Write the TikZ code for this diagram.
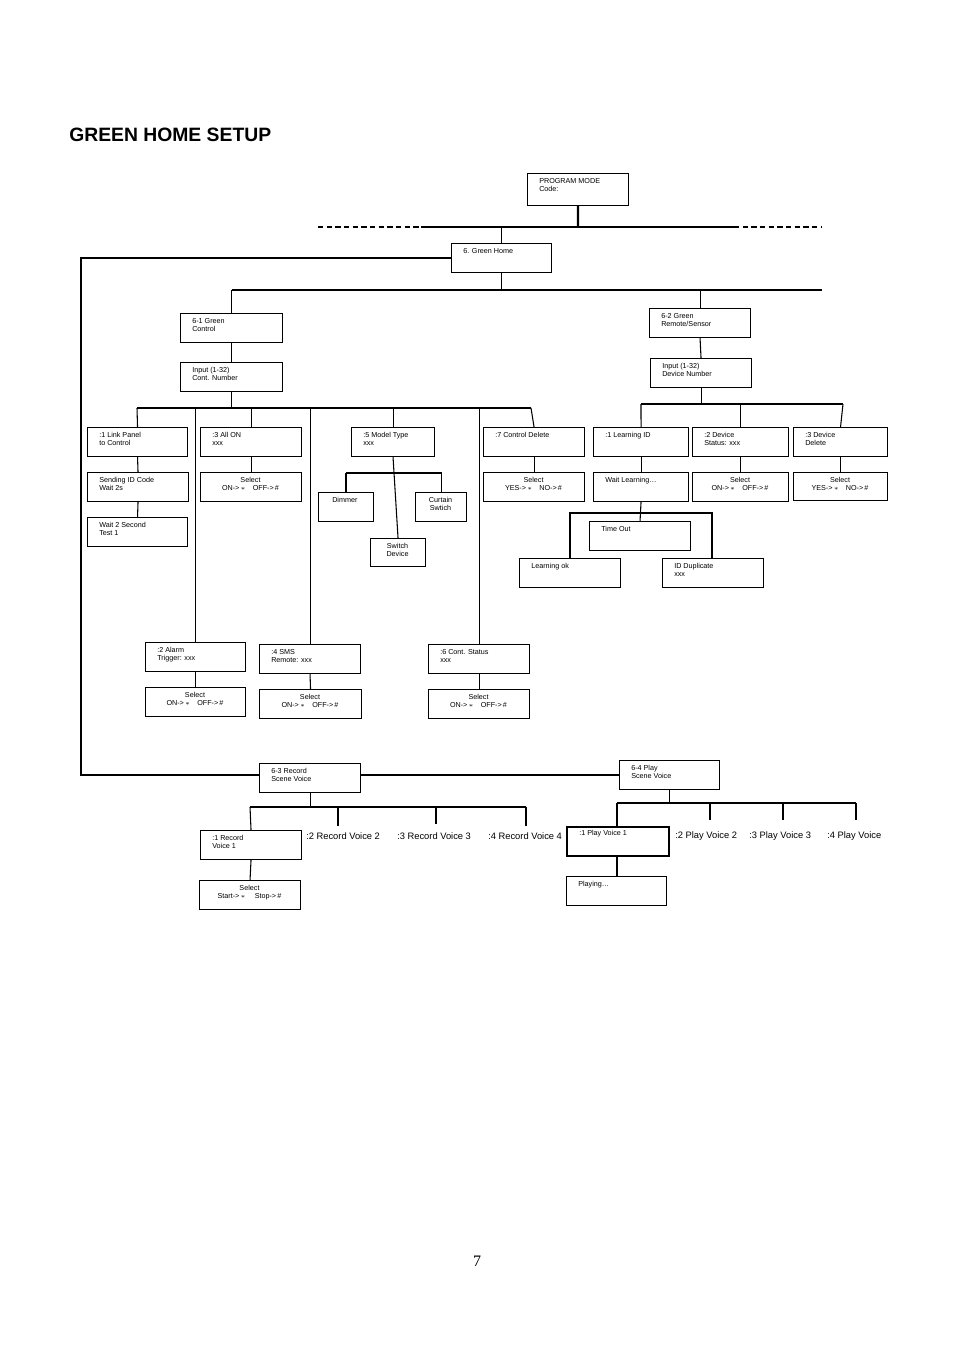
\documentclass[tikz,border=0pt]{standalone}
\usepackage{fontspec}
\setmainfont{Liberation Sans}
\newfontfamily\pgnum{Liberation Serif}
\tikzset{
 box/.style={draw, line width=0.8pt, inner sep=0pt},
 txt/.style={font=\fontsize{5.4}{6}\selectfont, inner sep=0pt, align=left},
 ctxt/.style={font=\fontsize{5.4}{6}\selectfont, inner sep=0pt, align=center},
 big/.style={font=\fontsize{7}{8}\selectfont, inner sep=0pt, anchor=north west},
 ln/.style={line width=0.8pt}
}
\newcommand\bx[6]{\node[box, minimum width={(#4-#2)*0.75pt}, minimum height={(#5-#3)*0.75pt}, anchor=north west] (#1) at (#2,#3) {};
 \node[txt, anchor=north west] (#1t) at ({#2+12},{#3+5}) {#6};}
\newcommand\sbx[6]{\node[box, minimum width={(#4-#2)*0.75pt}, minimum height={(#5-#3)*0.75pt}, anchor=north west] (#1) at (#2,#3) {};
 \node[ctxt, anchor=north] (#1t) at ({(#2+#4)/2},{#3+5}) {#6};}
\newcommand\on{ON->\,$\ast$\quad OFF->\,\#}
\begin{document}
\begin{tikzpicture}[x=0.75pt,y=-0.75pt]
\useasboundingbox (0,0) rectangle (954,1351);
\node[font=\bfseries\fontsize{14.5}{16}\selectfont, anchor=west, inner sep=0pt] (title) at (69,135) {GREEN HOME SETUP};
\node[font=\pgnum\fontsize{12}{14}\selectfont, inner sep=0pt] (pg) at (477,1261) {7};
% top
\bx{pm}{527}{173}{628}{205}{PROGRAM MODE\\Code:}
\coordinate (bar) at (578,227);
\draw[line width=1.6pt] (pm.south) -- (bar);
\coordinate (dl) at (318,227); \coordinate (dr) at (822,227);
\coordinate (sl) at (421,227); \coordinate (sr) at (734,227);
\draw[ln, dashed, dash pattern=on 4pt off 2.5pt] (dl) -- (dr);
\draw[ln] (sl) -- (sr);
\bx{gh}{451}{243}{551}{272}{6. Green Home}
\draw[ln] (gh.north) -- (gh.north |- bar);
% left loop
\coordinate (L1) at (81,258); \coordinate (L2) at (81,775);
\bx{r63}{259}{763}{360}{792}{6-3 Record\\Scene Voice}
\bx{p64}{619}{760}{719}{789}{6-4 Play\\Scene Voice}
\draw[ln] (gh.west |- L1) -- (L1) -- (L2) -- (r63.west |- L2);
\draw[ln] (r63.east |- L2) -- (p64.west |- L2);
% level 2
\coordinate (h2l) at (232,290); \coordinate (h2r) at (822,290);
\draw[ln] (gh.south) -- (gh.south |- h2l);
\draw[ln] (h2l) -- (h2r);
\bx{g61}{180}{313}{282}{342}{6-1 Green\\Control}
\bx{g62}{649}{308}{750}{337}{6-2 Green\\Remote/Sensor}
\draw[ln] (g61.north |- h2l) -- (g61.north);
\draw[ln] (g62.north |- h2l) -- (g62.north);
\bx{in1}{180}{362}{282}{391}{Input (1-32)\\Cont. Number}
\bx{in2}{650}{358}{751}{387}{Input (1-32)\\Device Number}
\draw[ln] (g61.south) -- (in1.north);
\draw[ln] (g62.south) -- (in2.north);
% 6-1 children
\coordinate (h3) at (137,408); \coordinate (h3r) at (531,408);
\draw[ln] (in1.south) -- (in1.south |- h3);
\draw[ln] (h3) -- (h3r);
\bx{c1}{87}{427}{187}{456}{:1 Link Panel\\to Control}
\bx{c3}{200}{427}{301}{456}{:3 All ON\\xxx}
\bx{c5}{351}{427}{434}{456}{:5 Model Type\\xxx}
\bx{c7}{483}{427}{584}{456}{:7 Control Delete}
\bx{c2}{145}{642}{245}{671}{:2 Alarm\\Trigger: xxx}
\bx{c4}{259}{644}{360}{673}{:4 SMS\\Remote: xxx}
\bx{c6}{428}{644}{529}{673}{:6 Cont. Status\\xxx}
\draw[ln] (h3) -- (c1.north);
\draw[ln] (c3.north |- h3) -- (c3.north);
\draw[ln] (c5.north |- h3) -- (c5.north);
\draw[ln] (h3r) -- (c7.north);
\draw[ln] (c2.north |- h3) -- (c2.north);
\draw[ln] (c4.north |- h3) -- (c4.north);
\draw[ln] (c6.north |- h3) -- (c6.north);
\bx{c1a}{87}{472}{188}{501}{Sending ID Code\\Wait 2s}
\bx{c1b}{87}{517}{187}{546}{Wait 2 Second\\Test 1}
\draw[ln] (c1.south) -- (c1a.north);
\draw[ln] (c1a.south) -- (c1b.north);
\sbx{c3a}{200}{472}{301}{501}{Select\\\on}
\draw[ln] (c3.south) -- (c3a.north);
\sbx{c7a}{483}{472}{584}{501}{Select\\YES->\,$\ast$\quad NO->\,\#}
\draw[ln] (c7.south) -- (c7a.north);
\node[box, minimum width={55*0.75pt}, minimum height={29*0.75pt}, anchor=north west] (dim) at (318,492) {};
\node[txt, anchor=north west] (dimt) at (332,497) {Dimmer};
\sbx{cur}{415}{492}{466}{521}{Curtain\\Swtich}
\sbx{swd}{370}{538}{425}{566}{Switch\\Device}
\coordinate (h5) at (346,473);
\draw[ln] (c5.south) -- (swd.north);
\draw[ln] (h5) -- (cur.north |- h5) -- (cur.north);
\draw[ln] (h5) -- (dim.north -| h5);
\sbx{c2a}{145}{687}{245}{716}{Select\\\on}
\sbx{c4a}{259}{689}{361}{718}{Select\\\on}
\sbx{c6a}{428}{689}{529}{718}{Select\\\on}
\draw[ln] (c2.south) -- (c2a.north);
\draw[ln] (c4.south) -- (c4a.north);
\draw[ln] (c6.south) -- (c6a.north);
% 6-2 children
\coordinate (h4) at (641,404); \coordinate (h4r) at (843,404);
\draw[ln] (in2.south) -- (in2.south |- h4);
\draw[ln] (h4) -- (h4r);
\bx{d1}{593}{427}{688}{456}{:1 Learning ID}
\bx{d2}{692}{427}{788}{456}{:2 Device\\Status: xxx}
\bx{d3}{793}{427}{887}{456}{:3 Device\\Delete}
\draw[ln] (h4) -- (d1.north);
\draw[ln] (d2.north |- h4) -- (d2.north);
\draw[ln] (h4r) -- (d3.north);
\bx{d1a}{593}{472}{688}{501}{Wait Learning\dots}
\sbx{d2a}{692}{472}{788}{501}{Select\\\on}
\sbx{d3a}{793}{472}{887}{500}{Select\\YES->\,$\ast$\quad NO->\,\#}
\draw[ln] (d1.south) -- (d1a.north);
\draw[ln] (d2.south) -- (d2a.north);
\draw[ln] (d3.south) -- (d3a.north);
\bx{to}{589}{521}{690}{550}{Time Out}
\bx{lok}{519}{558}{620}{587}{Learning ok}
\bx{idd}{662}{558}{763}{587}{ID Duplicate\\xxx}
\coordinate (h6l) at (570,513); \coordinate (h6r) at (712,513);
\draw[ln] (d1a.south) -- (to.north);
\draw[ln] (lok.north -| h6l) -- (h6l) -- (h6r) -- (idd.north -| h6r);
% 6-3 children
\coordinate (h7) at (250,807); \coordinate (h7r) at (526,807);
\draw[ln] (r63.south) -- (r63.south |- h7);
\draw[ln] (h7) -- (h7r);
\bx{rv1}{200}{830}{301}{859}{:1 Record\\Voice 1}
\draw[ln] (h7) -- (rv1.north);
\node[big] (rv2) at (306,832) {:2 Record Voice 2};
\node[big] (rv3) at (397,832) {:3 Record Voice 3};
\node[big] (rv4) at (488,832) {:4 Record Voice 4};
\coordinate (e2) at (338,826); \coordinate (e3) at (436,824); \coordinate (e4) at (526,826);
\draw[ln] (e2 |- h7) -- (e2); \draw[ln] (e3 |- h7) -- (e3); \draw[ln] (h7r) -- (e4);
\sbx{rv1a}{199}{880}{300}{909}{Select\\Start->\,$\ast$\quad\ Stop->\,\#}
\draw[ln] (rv1.south) -- (rv1a.north);
% 6-4 children
\coordinate (h8) at (617,803); \coordinate (h8r) at (856,803);
\draw[ln] (p64.south) -- (p64.south |- h8);
\draw[ln] (h8) -- (h8r);
\node[box, line width=1.2pt, minimum width={102*0.75pt}, minimum height={29*0.75pt}, anchor=north west] (pv1) at (566,826) {};
\node[txt, anchor=north west] (pv1t) at (579,830) {:1 Play Voice 1};
\draw[ln] (h8) -- (pv1.north -| h8);
\node[big] (pv2) at (675,831) {:2 Play Voice 2};
\node[big] (pv3) at (749,831) {:3 Play Voice 3};
\node[big] (pv4) at (827,831) {:4 Play Voice};
\coordinate (f2) at (710,820); \coordinate (f3) at (783,820); \coordinate (f4) at (856,820);
\draw[ln] (f2 |- h8) -- (f2); \draw[ln] (f3 |- h8) -- (f3); \draw[ln] (h8r) -- (f4);
\bx{pl}{566}{876}{666}{905}{Playing\dots}
\draw[ln] (pv1.south -| h8) -- (pl.north -| h8);
\end{tikzpicture}
\end{document}
